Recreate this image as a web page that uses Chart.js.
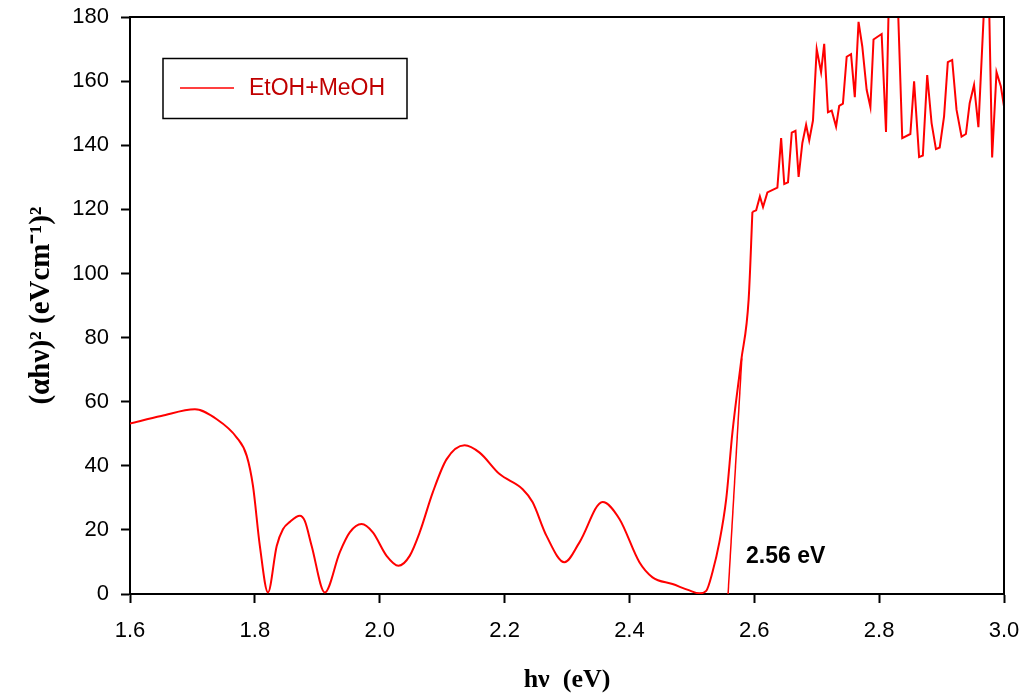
<!DOCTYPE html>
<html>
<head>
<meta charset="utf-8">
<script src="https://cdn.jsdelivr.net/npm/chart.js@4/dist/chart.umd.min.js"></script>
<style>
  body { margin: 0; background: #fff; }
  #box { width: 1027px; height: 696px; }
</style>
</head>
<body>
<div id="box"><canvas id="chart"></canvas></div>
<script>
// smooth absorption part (hv in eV, (ahv)^2)
var smoothX = [1.600, 1.650, 1.704, 1.739, 1.771, 1.787, 1.797, 1.808, 1.821, 1.835, 1.845, 1.856, 1.872, 1.880, 1.891, 1.912,
  1.936, 1.952, 1.971, 1.989, 2.011, 2.030, 2.048, 2.064, 2.085, 2.107, 2.136, 2.160, 2.192, 2.229, 2.245, 2.267, 2.296,
  2.320, 2.357, 2.384, 2.416, 2.437, 2.469, 2.495, 2.512, 2.523, 2.533, 2.544, 2.555, 2.565, 2.579, 2.591, 2.597];
var smoothY = [53.2, 55.5, 57.6, 54.5, 48.8, 43.1, 33.7, 15.0, 0.5, 15.0, 20.2, 22.5, 24.4, 22.8, 15.0, 0.5,
  13.0, 19.2, 21.8, 19.2, 11.9, 8.8, 11.9, 19.2, 31.7, 42.0, 46.4, 44.1, 37.4, 32.7, 28.6, 18.2, 9.9,
  16.1, 28.7, 23.4, 9.9, 5.2, 3.1, 1.2, 0.2, 1.0, 6.8, 16.1, 29.6, 50.4, 72.7, 92.0, 119.2];

// noisy part above the edge
var noisyX = [2.597, 2.603, 2.609, 2.614, 2.621, 2.637, 2.643, 2.648, 2.654, 2.660, 2.666, 2.671, 2.677, 2.683, 2.688, 2.694,
  2.700, 2.707, 2.712, 2.718, 2.724, 2.731, 2.736, 2.742, 2.748, 2.755, 2.761, 2.767, 2.773, 2.780, 2.786, 2.791, 2.804,
  2.811, 2.816, 2.829, 2.837, 2.850, 2.856, 2.864, 2.870, 2.877, 2.884, 2.891, 2.897, 2.904, 2.910, 2.917, 2.924, 2.932,
  2.939, 2.945, 2.952, 2.959, 2.971, 2.975, 2.981, 2.988, 2.995, 3.000];
var noisyY = [119.2, 119.7, 124.0, 120.7, 125.3, 126.8, 142.2, 127.9, 128.4, 143.9, 144.5, 130.1, 140.7, 146.4, 141.5, 147.7,
  170.0, 162.8, 171.6, 150.3, 150.8, 145.8, 152.3, 153.0, 167.6, 168.4, 155.0, 178.5, 170.8, 157.3, 151.9, 173.0, 174.7,
  144.1, 190.0, 190.0, 142.2, 143.5, 159.9, 136.3, 136.8, 161.9, 146.9, 138.8, 139.3, 149.0, 165.9, 166.6, 151.0, 142.7,
  143.5, 153.1, 158.8, 145.6, 195.0, 195.0, 136.2, 162.8, 158.3, 152.1];

// tangent line giving the band gap
var tangentX = [2.558, 2.580];
var tangentY = [0, 73.5];

var xTicks = [1.6, 1.8, 2.0, 2.2, 2.4, 2.6, 2.8, 3.0];
var yTicks = [0, 20, 40, 60, 80, 100, 120, 140, 160, 180];

var seriesName = 'EtOH+MeOH';
var gapLabel = '2.56 eV';

function pts(xs, ys) {
  return xs.map(function (x, i) { return { x: x, y: ys[i] }; });
}

var framePlugin = {
  id: 'frame',
  afterDraw: function (chart) {
    var ctx = chart.ctx, a = chart.chartArea;
    ctx.save();
    ctx.strokeStyle = '#000';
    ctx.lineWidth = 2;
    ctx.beginPath();
    ctx.moveTo(a.left, a.top);
    ctx.lineTo(a.right, a.top);
    ctx.lineTo(a.right, a.bottom);
    ctx.stroke();

    // legend box
    ctx.lineWidth = 1.5;
    ctx.strokeRect(163, 58.5, 244, 60);
    ctx.strokeStyle = '#ff0000';
    ctx.beginPath();
    ctx.moveTo(180, 88);
    ctx.lineTo(234, 88);
    ctx.stroke();
    ctx.fillStyle = '#c00000';
    ctx.font = '23px "Liberation Sans", Arial, sans-serif';
    ctx.textBaseline = 'middle';
    ctx.fillText(seriesName, 249, 89);

    // band gap label
    ctx.fillStyle = '#000';
    ctx.font = 'bold 23px "Liberation Sans", Arial, sans-serif';
    ctx.textBaseline = 'alphabetic';
    ctx.fillText(gapLabel, 746, 563);
    ctx.restore();
  }
};

var tickFont = { family: '"Liberation Sans", Arial, sans-serif', size: 22 };

new Chart(document.getElementById('chart'), {
  type: 'line',
  data: {
    datasets: [
      { data: pts(smoothX, smoothY), borderColor: '#ff0000', borderWidth: 2, pointRadius: 0,
        cubicInterpolationMode: 'monotone', tension: 0.4 },
      { data: pts(noisyX, noisyY), borderColor: '#ff0000', borderWidth: 2, pointRadius: 0, tension: 0 },
      { data: pts(tangentX, tangentY), borderColor: '#ff0000', borderWidth: 1.5, pointRadius: 0, tension: 0 }
    ]
  },
  options: {
    responsive: true,
    maintainAspectRatio: false,
    animation: false,
    layout: { padding: { top: 17, right: 23, left: 0, bottom: 0 } },
    plugins: { legend: { display: false }, tooltip: { enabled: false } },
    scales: {
      x: {
        type: 'linear', min: 1.6, max: 3.0,
        afterBuildTicks: function (s) { s.ticks = xTicks.map(function (v) { return { value: v }; }); },
        afterFit: function (s) { s.height = 102; s.paddingLeft = 0; s.paddingRight = 0; },
        ticks: { color: '#000', font: tickFont, padding: 15, maxRotation: 0,
          callback: function (v) { return v.toFixed(1); } },
        grid: { drawOnChartArea: false, tickLength: 9, tickColor: '#000', tickWidth: 2 },
        border: { color: '#000', width: 2 },
        title: { display: true, text: 'hν  (eV)', color: '#000', padding: { top: 0, bottom: 0 },
          font: { family: '"Liberation Serif", "Times New Roman", serif', size: 26, weight: 'bold' } }
      },
      y: {
        min: 0, max: 180,
        afterBuildTicks: function (s) { s.ticks = yTicks.map(function (v) { return { value: v }; }); },
        afterFit: function (s) { s.width = 130; s.paddingTop = 0; s.paddingBottom = 0; },
        ticks: { color: '#000', font: tickFont, padding: 12 },
        grid: { drawOnChartArea: false, tickLength: 9, tickColor: '#000', tickWidth: 2 },
        border: { color: '#000', width: 2 },
        title: { display: true, text: '(αhν)² (eVcm⁻¹)²', color: '#000', padding: { top: 24, bottom: 0 },
          font: { family: '"Liberation Serif", "Times New Roman", serif', size: 29, weight: 'bold' } }
      }
    }
  },
  plugins: [framePlugin]
});
</script>
</body>
</html>
